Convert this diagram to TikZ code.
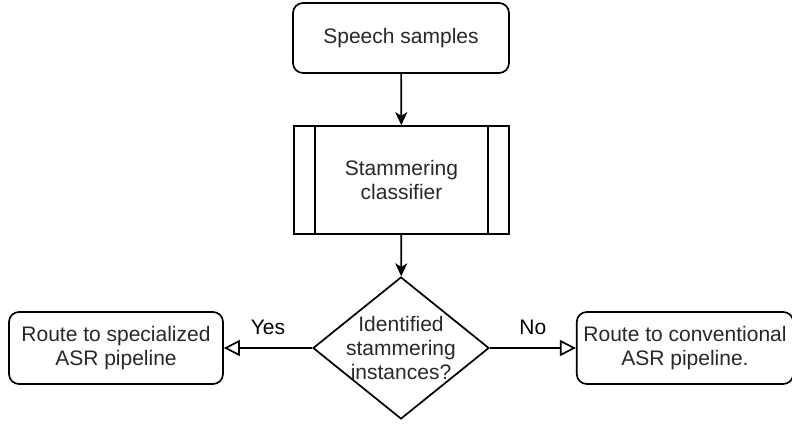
\documentclass[tikz,border=0pt]{standalone}
\usepackage{fontspec}
\setmainfont{Liberation Sans}
\usepackage{xcolor}
\usepackage{tikz}
\usetikzlibrary{positioning, arrows.meta, shapes.geometric}
\definecolor{txtGray}{RGB}{40, 40, 40}

\begin{document}
\begin{tikzpicture}[
    x=0.5pt, y=-0.5pt,
    font=\fontsize{10.5}{12}\selectfont\color{txtGray},
    proc/.style={rectangle, rounded corners=5pt, draw=black, line width=0.85pt, align=center, fill=white},
    sub/.style={rectangle, draw=black, line width=0.85pt, align=center, minimum width=107.5pt, minimum height=54pt},
    dec/.style={diamond, draw=black, line width=0.85pt, align=center, inner sep=-12pt, minimum width=88pt, minimum height=71pt},
    arr/.style={-{Stealth[length=6.5pt, width=6pt, inset=1.8pt]}, line width=0.85pt, black},
    alt/.style={-{Triangle[open, length=8pt, width=8pt, fill=white]}, line width=0.85pt, black}
]
\useasboundingbox (0,0) rectangle (792,423);

\node[proc, minimum width=108pt, minimum height=35pt] (sp) at (401,38) {Speech samples};
\node[sub] (cls) at (401.5,180) {Stammering\\classifier};
\node[dec] (ident) at (401,348) {Identified\\stammering\\instances?};
\node[proc, minimum width=107pt, minimum height=36pt] (spec) at (116,348) {Route to specialized\\ASR pipeline};
\node[proc, minimum width=106pt, minimum height=36pt] (conv) at (685,348) {Route to conventional\\ASR pipeline.};

% side bars of the classifier
\draw[line width=0.85pt] ([xshift=11pt]cls.north west) -- ([xshift=11pt]cls.south west);
\draw[line width=0.85pt] ([xshift=-11pt]cls.north east) -- ([xshift=-11pt]cls.south east);

\draw[arr] (sp) -- (cls);
\draw[arr] (cls) -- (ident);
\draw[alt] (ident.west) -- node[above=3pt] (yes) {Yes} (spec.east);
\draw[alt] (ident.east) -- node[above=3pt] (no) {No} (conv.west);
\end{tikzpicture}
\end{document}
